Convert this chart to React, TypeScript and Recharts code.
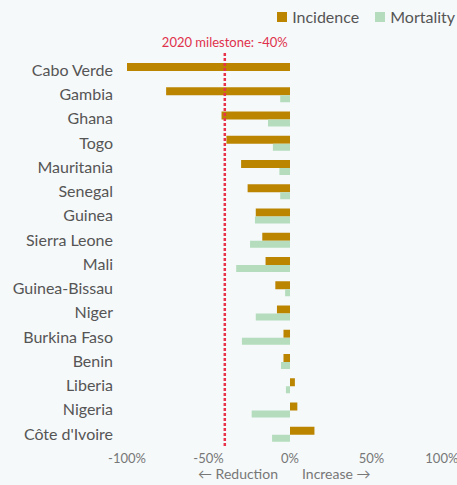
import { Bar, BarChart, ReferenceLine, XAxis, YAxis } from "recharts";

const COUNTRIES = [
  "Cabo Verde",
  "Gambia",
  "Ghana",
  "Togo",
  "Mauritania",
  "Senegal",
  "Guinea",
  "Sierra Leone",
  "Mali",
  "Guinea-Bissau",
  "Niger",
  "Burkina Faso",
  "Benin",
  "Liberia",
  "Nigeria",
  "Côte d'Ivoire",
];
const INCIDENCE = [-100, -76, -42, -39, -30, -26, -21, -17, -15, -9, -8, -4, -4, 3, 4.5, 15];
const MORTALITY = [0, -6, -13.5, -10.5, -6.5, -6, -21.5, -24.5, -33, -3, -21, -29.5, -5.5, -2.5, -23.5, -11];
const X_TICKS = [-100, -50, 0, 50, 100];
const MILESTONE = -40;

const INCIDENCE_COLOR = "#BB8500";
const MORTALITY_COLOR = "#B4DCBD";
const FONT = "Lato, sans-serif";

const data = COUNTRIES.map((name, i) => ({
  name,
  incidence: INCIDENCE[i],
  mortality: MORTALITY[i],
}));

const LEGEND = [
  { label: "Incidence", color: INCIDENCE_COLOR },
  { label: "Mortality", color: MORTALITY_COLOR },
];

// "← Reduction | Increase →" captions either side of zero
function DirectionLabel(props: any) {
  const { viewBox } = props;
  const zero = viewBox.x + viewBox.width / 2;
  const y = viewBox.y + 33;
  return (
    <g fontFamily={FONT} fontSize={14} fill="#777">
      <text x={zero - 12} y={y} textAnchor="end">
        ← Reduction
      </text>
      <text x={zero + 12} y={y} textAnchor="start">
        Increase →
      </text>
    </g>
  );
}

export default function App() {
  return (
    <div
      style={{
        position: "absolute",
        left: 0,
        top: 0,
        width: 457,
        height: 485,
        overflow: "hidden",
        background: "#F5F9FA",
      }}
    >
      <div
        style={{
          position: "absolute",
          top: 7,
          right: 2,
          display: "flex",
          gap: 16,
          fontFamily: FONT,
          fontSize: 16,
          lineHeight: "20px",
          color: "#555",
          whiteSpace: "nowrap",
        }}
      >
        {LEGEND.map((it) => (
          <div key={it.label} style={{ display: "flex", alignItems: "center", gap: 5 }}>
            <span style={{ width: 10, height: 10, background: it.color, display: "inline-block" }} />
            {it.label}
          </div>
        ))}
      </div>
      <BarChart
        width={457}
        height={485}
        data={data}
        layout="vertical"
        margin={{ top: 52, right: 4, left: 0, bottom: 9 }}
        barGap={0}
      >
        <XAxis
          type="number"
          domain={[-100, 100]}
          ticks={X_TICKS}
          tickFormatter={(v: number) => `${v}%`}
          axisLine={false}
          tickLine={false}
          tick={{ fill: "#777", fontSize: 13, fontFamily: FONT }}
          height={30}
          label={<DirectionLabel />}
        />
        <YAxis
          type="category"
          dataKey="name"
          width={127}
          axisLine={false}
          tickLine={false}
          tickMargin={8}
          interval={0}
          padding={{ top: 6, bottom: 0 }}
          tick={{ fill: "#555", fontSize: 16, fontFamily: FONT }}
        />
        <ReferenceLine
          x={MILESTONE}
          stroke="#E8334A"
          strokeWidth={2.5}
          strokeDasharray="3 2"
          label={{
            value: "2020 milestone: -40%",
            position: "top",
            fill: "#E0314B",
            fontSize: 13,
            fontFamily: FONT,
          }}
        />
        <Bar dataKey="incidence" name="Incidence" fill={INCIDENCE_COLOR} barSize={8} isAnimationActive={false} />
        <Bar dataKey="mortality" name="Mortality" fill={MORTALITY_COLOR} barSize={7} isAnimationActive={false} />
      </BarChart>
    </div>
  );
}
